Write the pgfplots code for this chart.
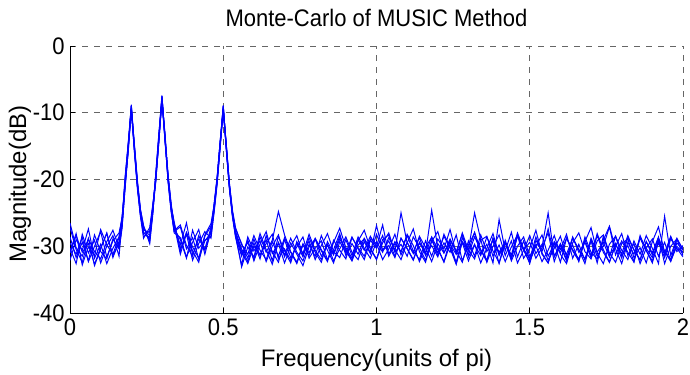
\documentclass[border=0pt]{standalone}
\usepackage{pgfplots}
\pgfplotsset{compat=1.18}
\usepackage{pgfplotstable}
\usepackage{fontspec}
\setmainfont{Liberation Sans}
\newfontfamily\tickfont[FakeStretch=0.92]{Liberation Sans}
\pgfplotstableread{
x a b c d e f g h
0.00 -29.5 -31.0 -27.2 -30.3 -32.1 -28.6 -30.8 -26.5
0.02 -31.2 -28.4 -30.5 -32.6 -29.0 -31.7 -28.1 -30.2
0.04 -28.7 -30.9 -32.4 -28.2 -30.6 -29.4 -32.8 -31.5
0.06 -32.3 -29.6 -28.9 -31.0 -27.4 -32.2 -30.1 -28.8
0.08 -30.0 -32.7 -30.8 -29.1 -31.8 -28.3 -31.4 -32.9
0.10 -27.8 -30.2 -31.9 -32.5 -29.7 -30.8 -27.5 -30.4
0.12 -31.6 -28.1 -29.3 -30.0 -32.6 -31.9 -29.8 -28.0
0.14 -29.2 -31.4 -27.6 -28.4 -30.3 -28.9 -31.2 -31.7
0.16 -28.0 -29.5 -30.2 -31.5 -28.6 -30.4 -28.7 -29.3
0.17 -25.8 -26.5 -27.0 -26.2 -25.5 -27.3 -26.0 -26.8
0.18 -20.5 -20.0 -21.0 -19.8 -20.8 -20.3 -19.5 -21.2
0.19 -15.2 -14.8 -15.6 -14.5 -15.0 -15.9 -14.7 -15.4
0.20 -9.2 -8.9 -9.6 -9.0 -9.4 -8.8 -9.8 -9.3
0.21 -15.0 -15.4 -14.7 -15.8 -15.1 -14.9 -15.6 -15.3
0.22 -20.6 -21.0 -20.2 -21.4 -20.8 -20.4 -21.2 -20.9
0.23 -24.8 -25.3 -24.5 -25.6 -25.0 -24.6 -25.4 -25.1
0.24 -27.6 -28.3 -27.0 -28.8 -27.9 -26.9 -28.1 -27.4
0.26 -27.9 -28.6 -29.4 -27.2 -28.9 -29.6 -27.8 -28.4
0.27 -24.2 -25.0 -24.6 -23.8 -24.9 -25.3 -24.0 -24.4
0.28 -19.5 -19.9 -19.2 -20.1 -19.6 -19.0 -19.8 -20.3
0.29 -13.6 -14.0 -13.3 -14.2 -13.8 -13.1 -14.4 -13.7
0.30 -7.6 -7.9 -7.4 -8.2 -7.7 -8.0 -7.5 -8.3
0.31 -13.8 -13.4 -14.1 -13.6 -14.3 -13.2 -13.9 -14.0
0.32 -19.7 -20.2 -19.4 -20.0 -19.9 -19.3 -20.4 -19.6
0.33 -24.1 -24.7 -23.9 -24.5 -24.3 -23.6 -24.8 -24.0
0.34 -27.0 -27.8 -26.4 -28.0 -26.9 -27.4 -27.7 -26.6
0.36 -29.8 -27.1 -30.5 -28.7 -31.2 -29.0 -26.8 -30.6
0.38 -26.5 -30.4 -28.2 -31.6 -28.0 -31.8 -29.9 -27.9
0.40 -31.3 -28.7 -32.1 -29.4 -30.7 -27.6 -31.5 -30.1
0.42 -28.9 -31.9 -29.6 -27.5 -32.4 -30.3 -28.4 -31.8
0.44 -30.4 -29.2 -27.8 -31.2 -28.5 -29.1 -30.6 -28.3
0.46 -27.2 -28.0 -28.8 -27.6 -27.0 -28.5 -27.9 -26.6
0.47 -24.5 -24.0 -24.8 -23.7 -24.2 -25.0 -24.4 -23.9
0.48 -20.2 -19.8 -20.5 -19.6 -20.0 -20.7 -19.9 -20.3
0.49 -14.6 -14.2 -15.0 -14.4 -14.8 -15.2 -14.3 -14.7
0.50 -9.1 -9.4 -8.9 -9.7 -9.2 -9.5 -9.0 -9.8
0.51 -15.2 -14.8 -15.5 -15.0 -15.6 -14.9 -15.3 -15.1
0.52 -21.0 -20.6 -21.4 -20.8 -21.2 -20.5 -21.1 -20.9
0.53 -25.2 -24.8 -25.6 -25.0 -25.4 -24.6 -25.3 -25.1
0.54 -28.0 -27.4 -28.6 -27.8 -28.3 -27.2 -28.5 -27.9
0.56 -31.2 -29.6 -32.8 -30.4 -33.1 -29.8 -31.5 -30.8
0.58 -29.4 -31.8 -28.6 -32.3 -30.1 -31.2 -29.0 -32.6
0.60 -32.0 -28.9 -30.7 -29.5 -31.6 -28.4 -32.2 -30.0
0.62 -28.6 -31.4 -29.2 -31.9 -28.1 -30.6 -29.7 -31.3
0.64 -30.9 -29.0 -32.3 -28.4 -30.5 -32.0 -27.8 -29.6
0.66 -29.1 -32.2 -30.0 -30.8 -32.7 -29.3 -31.1 -28.2
0.68 -24.8 -28.5 -28.3 -32.4 -29.4 -31.5 -29.6 -31.9
0.70 -28.3 -30.7 -31.6 -29.0 -31.3 -28.7 -32.5 -30.4
0.72 -30.8 -32.5 -29.5 -31.7 -28.8 -30.9 -30.0 -32.1
0.74 -32.4 -29.3 -31.2 -30.1 -30.9 -32.6 -28.4 -29.5
0.76 -29.6 -31.1 -32.9 -28.6 -32.2 -29.8 -31.3 -31.6
0.78 -31.0 -28.2 -30.1 -31.8 -29.7 -31.4 -29.2 -28.7
0.80 -28.8 -30.6 -28.9 -30.3 -31.5 -28.9 -32.0 -30.9
0.82 -30.5 -32.0 -31.5 -29.2 -28.4 -30.7 -29.9 -32.4
0.84 -32.1 -29.7 -29.8 -32.0 -30.6 -32.3 -28.1 -29.3
0.86 -29.4 -31.3 -32.2 -30.5 -32.5 -29.1 -30.8 -31.1
0.88 -27.3 -28.9 -30.4 -28.1 -29.3 -30.6 -31.7 -28.5
0.90 -30.2 -30.5 -28.6 -31.4 -31.0 -31.9 -29.0 -30.7
0.92 -31.8 -32.1 -30.9 -29.6 -28.6 -28.7 -31.4 -32.2
0.94 -29.0 -29.2 -32.0 -31.2 -30.4 -30.2 -28.6 -29.8
0.96 -30.6 -27.6 -29.3 -28.8 -32.0 -31.5 -30.3 -28.9
0.98 -28.5 -30.3 -31.1 -30.4 -29.1 -28.9 -31.8 -31.0
1.00 -30.1 -31.9 -28.2 -32.0 -30.3 -29.6 -29.3 -26.9
1.02 -26.8 -29.0 -30.6 -29.5 -28.4 -32.0 -30.9 -30.6
1.04 -31.2 -28.3 -29.9 -28.0 -31.5 -30.4 -28.7 -29.2
1.06 -29.3 -30.8 -31.7 -30.9 -29.6 -28.2 -30.5 -31.5
1.08 -30.9 -25.0 -28.8 -29.7 -30.8 -31.3 -32.0 -28.8
1.10 -28.4 -29.5 -30.4 -31.5 -28.2 -29.5 -29.4 -30.3
1.12 -30.7 -30.9 -32.1 -28.6 -29.9 -27.4 -31.1 -32.0
1.14 -32.0 -28.7 -29.5 -30.2 -32.3 -30.8 -28.5 -29.4
1.16 -29.2 -31.4 -31.0 -32.1 -30.1 -32.4 -30.2 -31.1
1.18 -31.5 -29.9 -24.6 -29.3 -28.7 -29.1 -32.3 -28.6
1.20 -28.9 -31.6 -30.2 -27.8 -31.4 -31.0 -29.6 -30.5
1.22 -30.4 -28.2 -32.4 -31.0 -29.5 -28.5 -31.0 -32.3
1.24 -27.5 -30.1 -29.7 -29.4 -30.9 -30.3 -28.9 -29.1
1.26 -31.1 -32.4 -31.2 -32.6 -28.3 -32.7 -30.7 -30.8
1.28 -29.5 -29.3 -28.0 -28.7 -32.2 -29.4 -32.4 -28.2
1.30 -32.2 -30.7 -30.6 -30.5 -29.8 -31.2 -29.2 -31.6
1.32 -29.8 -27.9 -31.9 -25.0 -28.0 -28.6 -31.5 -29.7
1.34 -31.4 -30.6 -29.1 -29.0 -31.1 -30.5 -28.3 -32.5
1.36 -28.6 -32.3 -28.5 -32.4 -29.7 -32.1 -30.8 -30.3
1.38 -30.7 -28.8 -31.5 -30.0 -32.5 -28.8 -29.1 -28.1
1.40 -32.5 -31.2 -29.8 -28.3 -26.0 -30.9 -32.6 -31.4
1.42 -29.1 -29.5 -32.3 -31.4 -30.7 -29.3 -29.5 -29.4
1.44 -31.9 -31.8 -30.1 -29.2 -27.9 -31.8 -31.3 -32.2
1.46 -28.2 -28.5 -28.3 -32.5 -31.6 -28.4 -28.0 -30.0
1.48 -30.6 -30.4 -31.8 -30.6 -29.2 -30.6 -30.4 -28.6
1.50 -29.4 -32.6 -30.3 -28.4 -32.1 -32.4 -31.9 -31.5
1.52 -31.8 -29.1 -27.6 -31.1 -30.0 -29.7 -28.6 -29.9
1.54 -30.2 -30.8 -31.2 -29.7 -28.3 -30.1 -31.0 -32.3
1.56 -28.0 -27.4 -32.5 -32.1 -31.5 -25.0 -32.5 -30.6
1.58 -32.3 -31.5 -29.4 -30.3 -29.6 -31.6 -29.3 -28.4
1.60 -29.7 -29.6 -31.0 -28.5 -32.4 -29.9 -30.5 -31.2
1.62 -31.2 -32.0 -28.8 -31.6 -28.8 -32.2 -28.2 -32.6
1.64 -28.8 -28.6 -30.7 -29.8 -30.5 -28.7 -31.8 -29.5
1.66 -30.5 -30.9 -32.2 -32.3 -31.9 -30.5 -29.7 -28.0
1.68 -32.6 -29.4 -29.0 -28.6 -29.3 -31.9 -32.1 -30.8
1.70 -29.0 -31.7 -31.4 -30.9 -27.2 -29.2 -28.8 -31.9
1.72 -31.5 -28.1 -28.4 -31.9 -31.0 -32.5 -30.9 -29.2
1.74 -30.0 -30.5 -30.9 -29.1 -32.6 -28.5 -29.4 -28.3
1.76 -27.1 -32.4 -32.4 -27.0 -29.7 -31.3 -31.6 -31.0
1.78 -31.3 -29.8 -29.6 -30.4 -28.5 -30.0 -28.5 -32.4
1.80 -29.2 -31.1 -31.8 -32.6 -31.4 -28.1 -30.6 -29.6
1.82 -30.9 -28.4 -28.7 -29.4 -29.9 -31.4 -32.0 -28.9
1.84 -32.4 -30.6 -30.5 -31.2 -32.3 -29.6 -29.2 -31.7
1.86 -28.7 -32.0 -32.1 -28.8 -28.4 -32.6 -31.2 -30.2
1.88 -30.3 -29.3 -29.3 -30.7 -30.6 -30.3 -28.4 -32.5
1.90 -31.7 -31.3 -31.0 -32.2 -32.5 -28.9 -30.3 -29.3
1.92 -29.4 -28.8 -28.6 -29.5 -29.0 -31.5 -32.6 -27.1
1.94 -31.0 -30.7 -32.6 -31.7 -31.3 -29.4 -25.5 -30.9
1.96 -28.5 -32.3 -30.0 -28.9 -28.7 -32.2 -31.4 -32.0
1.98 -30.8 -29.5 -28.9 -30.3 -30.4 -30.0 -28.8 -29.0
2.00 -29.9 -30.6 -31.4 -31.6 -30.8 -31.1 -30.5 -30.4
}\data
\begin{document}
\begin{tikzpicture}
\useasboundingbox (-35bp,-31bp) rectangle (310bp,156.5bp);
\begin{axis}[
  at={(0,0)}, anchor=south west,
  scale only axis, width=306.5bp, height=133.5bp,
  xmin=0, xmax=2, ymin=-40, ymax=0,
  xtick={0,0.5,1,1.5,2}, ytick={-40,-30,-20,-10,0},
  xticklabels={0,0.5,1,1.5,2},
  yticklabels={-40,-30,-20,-10,0},
  axis x line*=bottom, axis y line*=left,
  axis line style={black, line width=0.5bp, -},
  tick style={black, line width=0.5bp},
  tick align=inside, major tick length=2.5bp,
  grid=major,
  major grid style={dash pattern=on 3bp off 3bp, gray!80!black, line width=0.5bp},
  tick label style={font=\tickfont\fontsize{12}{14}\selectfont},
  xticklabel style={anchor=base, yshift=-11bp},
  yticklabel style={anchor=east, xshift=-2.5bp, inner sep=0pt},
  title={Monte-Carlo of MUSIC Method},
  every axis title/.style={at={(axis description cs:0.5,1)}, anchor=base, yshift=9.6bp, font=\tickfont\fontsize{12}{14}\selectfont},
  xlabel={Frequency(units of pi)},
  ylabel={Magnitude(dB)},
  every axis x label/.style={at={(axis description cs:0.5,0)}, anchor=base, yshift=-26.5bp, font=\fontsize{12}{14}\selectfont},
  every axis y label/.style={at={(axis description cs:-0.0816,0.483)}, anchor=center, rotate=90, font=\fontsize{12}{14}\selectfont},
  clip=true,
]
\addplot[blue, line width=0.5bp, no marks] table[x=x, y=a] {\data};
\addplot[blue, line width=0.5bp, no marks] table[x=x, y=b] {\data};
\addplot[blue, line width=0.5bp, no marks] table[x=x, y=c] {\data};
\addplot[blue, line width=0.5bp, no marks] table[x=x, y=d] {\data};
\addplot[blue, line width=0.5bp, no marks] table[x=x, y=e] {\data};
\addplot[blue, line width=0.5bp, no marks] table[x=x, y=f] {\data};
\addplot[blue, line width=0.5bp, no marks] table[x=x, y=g] {\data};
\addplot[blue, line width=0.5bp, no marks] table[x=x, y=h] {\data};
\end{axis}
\end{tikzpicture}
\end{document}
